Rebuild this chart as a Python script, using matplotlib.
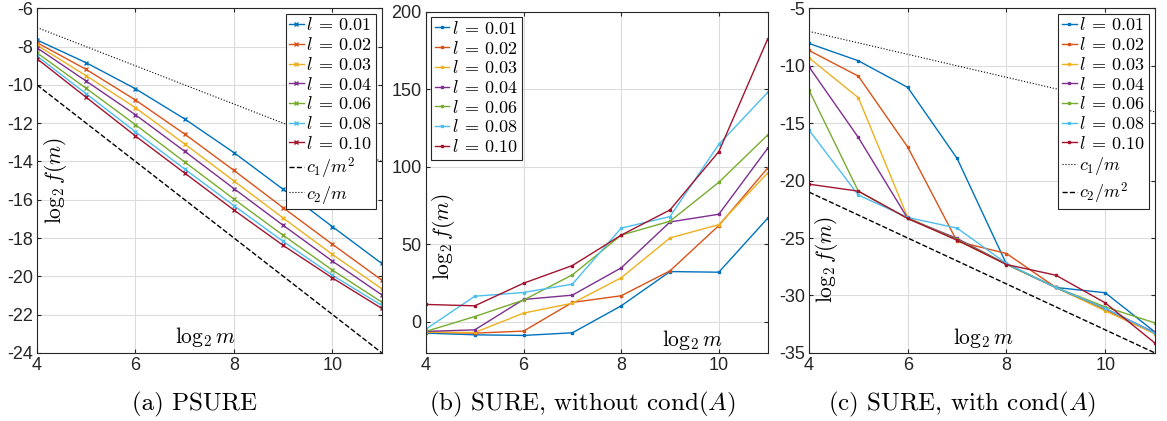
import matplotlib.pyplot as plt
import numpy as np

# x axis: log2 m
logm = np.array([4, 5, 6, 7, 8, 9, 10, 11])
levels = ['0.01', '0.02', '0.03', '0.04', '0.06', '0.08', '0.10']

# (a) PSURE
psure = [
    [-7.65, -8.84, -10.20, -11.78, -13.54, -15.46, -17.41, -19.33],
    [-7.79, -9.19, -10.79, -12.57, -14.47, -16.42, -18.33, -20.20],
    [-7.92, -9.52, -11.19, -13.09, -15.02, -16.96, -18.86, -20.65],
    [-8.06, -9.80, -11.56, -13.47, -15.42, -17.34, -19.21, -20.97],
    [-8.32, -10.18, -12.08, -14.03, -15.97, -17.86, -19.68, -21.35],
    [-8.49, -10.46, -12.45, -14.40, -16.31, -18.18, -19.95, -21.52],
    [-8.63, -10.65, -12.67, -14.61, -16.54, -18.39, -20.09, -21.68],
]

# (b) SURE, without cond(A)
sure_nocond = [
    [-7.3, -8.4, -8.8, -7.1, 10.3, 32.4, 32.0, 66.8],
    [-6.7, -7.3, -6.0, 12.5, 16.8, 32.9, 62.1, 99.2],
    [-6.7, -6.9, 5.6, 12.0, 28.4, 54.1, 62.7, 96.0],
    [-6.2, -5.2, 14.4, 17.2, 34.8, 64.4, 69.4, 111.9],
    [-6.2, 3.4, 14.0, 30.3, 55.9, 64.9, 90.0, 120.5],
    [-4.7, 16.5, 18.9, 24.3, 60.4, 67.9, 114.5, 148.0],
    [11.2, 10.3, 24.9, 36.3, 55.9, 72.2, 109.8, 182.4],
]

# (c) SURE, with cond(A)
sure_cond = [
    [-8.05, -9.56, -11.88, -18.07, -27.28, -29.31, -29.77, -33.17],
    [-8.66, -10.90, -17.08, -25.30, -26.35, -29.31, -31.28, -33.32],
    [-9.30, -12.78, -23.21, -25.19, -27.28, -29.31, -31.34, -33.32],
    [-10.08, -16.24, -23.30, -25.04, -27.28, -29.31, -31.14, -33.23],
    [-12.12, -20.92, -23.30, -25.13, -27.28, -29.31, -31.00, -32.39],
    [-15.60, -21.26, -23.21, -24.14, -27.22, -29.31, -31.14, -33.26],
    [-20.31, -20.92, -23.30, -25.19, -27.31, -28.24, -30.65, -34.13],
]

# reference lines, log2 of the constants
a_c1, a_c2 = -2, -3      # (a): c1/m^2, c2/m
c_c1, c_c2 = -3, -13     # (c): c1/m, c2/m^2

colors = ['#0072BD', '#D95319', '#EDB120', '#7E2F8E', '#77AC30', '#4DBEEE', '#A2142F']

plt.rcParams['font.family'] = 'Liberation Sans'
plt.rcParams['mathtext.fontset'] = 'cm'
plt.rcParams['axes.unicode_minus'] = False

fig = plt.figure(figsize=(11.67, 4.21), dpi=100)
ax_a = fig.add_axes([0.0317, 0.162, 0.2954, 0.818])
ax_b = fig.add_axes([0.3650, 0.162, 0.2928, 0.810])
ax_c = fig.add_axes([0.6932, 0.162, 0.2962, 0.818])


def style(ax, ylim, yticks):
    ax.set_xlim(4, 11)
    ax.set_ylim(*ylim)
    ax.set_xticks([4, 6, 8, 10])
    ax.set_yticks(yticks)
    ax.grid(True, color='#dcdcdc', lw=0.8)
    ax.set_axisbelow(True)
    ax.tick_params(direction='in', top=True, right=True, length=3,
                   labelsize=13, colors='#262626', pad=3)
    for sp in ax.spines.values():
        sp.set_color('#262626')
        sp.set_linewidth(0.8)


def labels(ax, xpos, ypos):
    ax.text(xpos[0], xpos[1], r'$\log_2 m$', transform=ax.transAxes,
            ha='center', va='center', fontsize=15.5)
    ax.text(ypos[0], ypos[1], r'$\log_2 f(m)$', transform=ax.transAxes,
            ha='center', va='center', rotation=90, fontsize=15.5)


leg_kw = dict(fontsize=13, handlelength=0.8, handletextpad=0.15,
              labelspacing=0.15, borderpad=0.2, borderaxespad=0.3,
              fancybox=False, edgecolor='#262626', framealpha=1)

# (a)
for ys, c, l in zip(psure, colors, levels):
    ax_a.plot(logm, ys, color=c, lw=1.0, marker='x', ms=3.5, mew=1.0,
              label=r'$l\:=\:%s$' % l)
ax_a.plot(logm, a_c1 - 2 * logm, 'k--', lw=1.0, label=r'$c_1/m^2$')
ax_a.plot(logm, a_c2 - logm, 'k:', lw=0.8, label=r'$c_2/m$')
style(ax_a, (-24, -6), np.arange(-24, -5, 2))
labels(ax_a, (0.49, 0.046), (0.055, 0.5))
ax_a.legend(loc='upper right', **leg_kw).get_frame().set_linewidth(0.8)

# (b)
for ys, c, l in zip(sure_nocond, colors, levels):
    ax_b.plot(logm, ys, color=c, lw=1.0, marker='s', ms=1.8,
              label=r'$l\:=\:%s$' % l)
style(ax_b, (-20, 200), [0, 50, 100, 150, 200])
labels(ax_b, (0.78, 0.037), (0.05, 0.34))
ax_b.legend(loc='upper left', **leg_kw).get_frame().set_linewidth(0.8)

# (c)
for ys, c, l in zip(sure_cond, colors, levels):
    ax_c.plot(logm, ys, color=c, lw=1.0, marker='s', ms=1.8,
              label=r'$l\:=\:%s$' % l)
ax_c.plot(logm, c_c1 - logm, 'k:', lw=0.8, label=r'$c_1/m$')
ax_c.plot(logm, c_c2 - 2 * logm, 'k--', lw=1.0, label=r'$c_2/m^2$')
style(ax_c, (-35, -5), np.arange(-35, -4, 5))
labels(ax_c, (0.506, 0.043), (0.052, 0.27))
ax_c.legend(loc='upper right', **leg_kw).get_frame().set_linewidth(0.8)

cap_kw = dict(ha='center', va='center', fontsize=18, family='cmr10')
fig.text(0.167, 0.04, '(a) PSURE', **cap_kw)
fig.text(0.499, 0.04, r'(b) SURE, without cond$(A)$', **cap_kw)
fig.text(0.824, 0.04, r'(c) SURE, with cond$(A)$', **cap_kw)

fig.savefig('out.png', dpi=100)
